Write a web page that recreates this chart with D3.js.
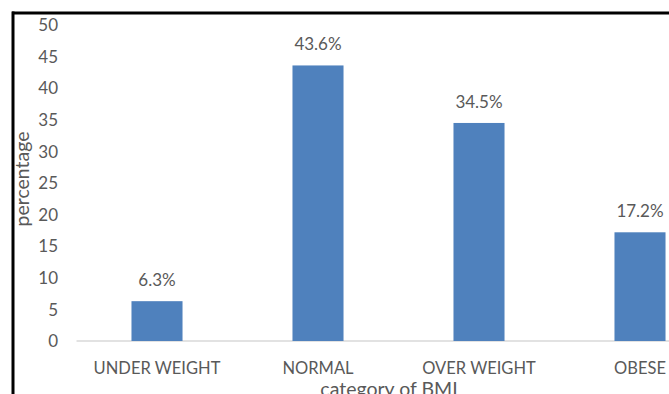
<!DOCTYPE html>
<html>
<head>
<meta charset="utf-8">
<script src="https://cdn.jsdelivr.net/npm/d3@7"></script>
<style>
  body { margin: 0; background: #fff; }
  text { font-family: Lato, "Noto Sans", sans-serif; fill: #595959; }
</style>
</head>
<body>
<div id="root"></div>
<script>
//DATA
const categories = ["UNDER WEIGHT", "NORMAL", "OVER WEIGHT", "OBESE"];
const values = [6.3, 43.6, 34.5, 17.2];
const yTicks = [0, 5, 10, 15, 20, 25, 30, 35, 40, 45, 50];

//DIMENSIONS
const width = 669, height = 394;
const plot = {left: 76.5, right: 720.5, top: 25, bottom: 341};

//CREATE SVG
let svg = d3.select('#root')
  .append('svg')
  .attr('width', width)
  .attr('height', height);

//SCALES
const x = d3.scaleBand()
  .domain(categories)
  .range([plot.left, plot.right])
  .paddingInner(0.683)
  .paddingOuter(0.3415);

const y = d3.scaleLinear()
  .domain([0, 50])
  .range([plot.bottom, plot.top]);

//BASELINE
svg.append('line')
  .attr('x1', plot.left).attr('x2', plot.right)
  .attr('y1', y(0)).attr('y2', y(0))
  .attr('stroke', '#d9d9d9')
  .attr('stroke-width', 1.5);

//Y AXIS LABELS (no line)
svg.append('g')
  .selectAll('text')
  .data(yTicks)
  .join('text')
  .attr('x', 58)
  .attr('y', d => y(d))
  .attr('dy', '0.36em')
  .attr('text-anchor', 'end')
  .style('font-size', '17px')
  .text(d => d);

//BARS
svg.append('g')
  .selectAll('rect')
  .data(values)
  .join('rect')
  .attr('x', (d, i) => x(categories[i]))
  .attr('y', d => y(d))
  .attr('width', x.bandwidth())
  .attr('height', d => y(0) - y(d))
  .attr('fill', '#4f81bd');

//DATA LABELS
svg.append('g')
  .selectAll('text')
  .data(values)
  .join('text')
  .attr('x', (d, i) => x(categories[i]) + x.bandwidth() / 2)
  .attr('y', d => y(d) - 15)
  .attr('text-anchor', 'middle')
  .style('font-size', '17px')
  .text(d => d.toFixed(1) + '%');

//CATEGORY LABELS
svg.append('g')
  .selectAll('text')
  .data(categories)
  .join('text')
  .attr('x', d => x(d) + x.bandwidth() / 2)
  .attr('y', 374)
  .attr('text-anchor', 'middle')
  .style('font-size', '16.5px')
  .text(d => d);

//AXIS TITLES
svg.append('text')
  .attr('x', 389)
  .attr('y', 396)
  .attr('text-anchor', 'middle')
  .style('font-size', '19.5px')
  .text('category of BMI');

svg.append('text')
  .attr('transform', 'translate(29,179) rotate(-90)')
  .attr('text-anchor', 'middle')
  .style('font-size', '19.5px')
  .text('percentage');

//BLACK FRAME (top and left)
svg.append('line')
  .attr('x1', 12).attr('x2', width)
  .attr('y1', 13).attr('y2', 13)
  .attr('stroke', '#000').attr('stroke-width', 3);
svg.append('line')
  .attr('x1', 13).attr('x2', 13)
  .attr('y1', 11.5).attr('y2', height)
  .attr('stroke', '#000').attr('stroke-width', 3);
</script>
</body>
</html>
